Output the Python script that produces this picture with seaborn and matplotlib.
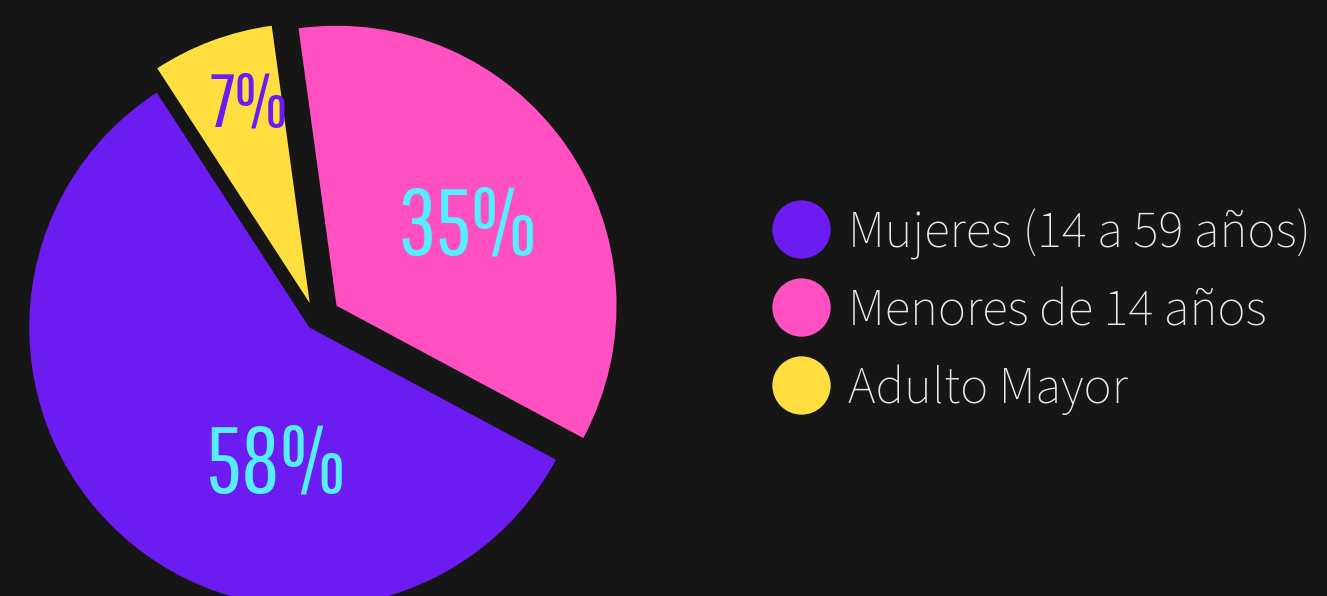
import math
import matplotlib
matplotlib.use("Agg")
import matplotlib.pyplot as plt
from matplotlib.lines import Line2D
import seaborn as sns

# Colors
BG = "#161616"
PURPLE = "#6C1BF0"
PINK = "#FF50C2"
YELLOW = "#FFDF40"
CYAN = "#55EEFF"
TEXT = "#E6EAEE"

# Data
categories = ["Mujeres (14 a 59 años)", "Menores de 14 años", "Adulto Mayor"]
shares = [58, 35, 7]
slice_colors = [PURPLE, PINK, YELLOW]

# label styling per slice
label_colors = [CYAN, CYAN, PURPLE]
label_sizes = [68, 68, 55]
label_dist = [0.489, 0.554, 0.759]   # fraction of radius from slice apex
label_turn = [28.2, -2.1, -3.8]      # degrees away from slice mid angle

NUM_FONT = ["Pathway Gothic One", "Antonio", "Oswald", "Liberation Sans Narrow", "DejaVu Sans"]
LEG_FONT = ["Source Sans 3", "Source Sans Pro", "Lato", "DejaVu Sans"]

W, H = 1327, 596
RADIUS = 280
explode = [10, 25, 18]  # data units (= pixels here)

sns.set_theme(style="dark", rc={"figure.facecolor": BG, "axes.facecolor": BG})
plt.rcParams["font.family"] = LEG_FONT

fig = plt.figure(figsize=(W / 100, H / 100), dpi=100)
ax = fig.add_axes([0, 0, 1, 1])

wedges, _ = ax.pie(
    shares,
    colors=slice_colors,
    explode=explode,
    startangle=123,
    counterclock=True,
    radius=RADIUS,
    center=(316, H - 320),
    wedgeprops=dict(linewidth=0),
)

# percentage labels
for w, val, col, fs, dist, turn in zip(wedges, shares, label_colors, label_sizes, label_dist, label_turn):
    ang = math.radians((w.theta1 + w.theta2) / 2 + turn)
    cx, cy = w.center
    ax.annotate(
        f"{val}%",
        xy=(cx + dist * RADIUS * math.cos(ang), cy + dist * RADIUS * math.sin(ang)),
        xytext=(0, -6), textcoords="offset pixels",
        ha="center", va="center",
        color=col, fontsize=fs,
        family=NUM_FONT,
    )

ax.set_xlim(0, W)
ax.set_ylim(0, H)
ax.set_axis_off()

handles = [
    Line2D([], [], marker="o", linestyle="none", markersize=42,
           markerfacecolor=c, markeredgewidth=0)
    for c in slice_colors
]
leg = ax.legend(
    handles, categories,
    loc="center left",
    bbox_to_anchor=(773 / W, 1 - 312 / H),
    bbox_transform=fig.transFigure,
    frameon=False,
    prop=dict(family=LEG_FONT, weight=300, size=38),
    labelcolor=TEXT,
    handlelength=1.05,
    handletextpad=0.37,
    labelspacing=0.52,
    borderpad=0,
    borderaxespad=0,
)

fig.savefig("out.png", dpi=100, facecolor=BG)
